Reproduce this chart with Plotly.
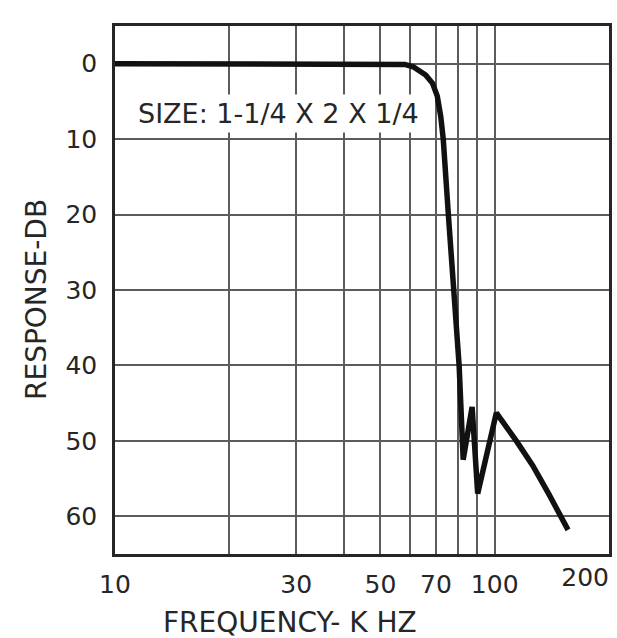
import math
import plotly.graph_objects as go

# ---- data ----
freq_khz = [10, 20, 30, 40, 50, 55, 58, 61, 63.5, 65.8, 68.6, 70.6, 72.1, 73.2,
            75.5, 78.2, 80.6, 82.6, 87.2, 90.2, 101, 114, 126, 139, 156]
response_db = [0, 0, 0, 0, 0, 0, 0.1, 0.4, 0.9, 1.5, 2.6, 4.3, 7, 10,
               20, 30, 40, 52.5, 45.5, 57, 46.3, 50, 53.3, 57.1, 61.8]

grid_freqs = [10, 20, 30, 40, 50, 60, 70, 80, 90, 100]
grid_labels = ["10", "", "30", "", "50", "", "70", "", "", "100"]
edge_freq = [200]
edge_label = ["200"]
db_ticks = [0, 10, 20, 30, 40, 50, 60]
db_labels = ["0", "10", "20", "30", "40", "50", "60"]

x_title = "FREQUENCY- K HZ"
y_title = "RESPONSE-DB"
note = "SIZE: 1-1/4 X 2 X 1/4"

FONT = "DejaVu Sans"
INK = "#262626"
GRID = "#5c5c5c"
xr = [1, math.log10(200)]

W, H = 617, 638
L, R, T, B = 115, 8, 26, 84
PW, PH = W - L - R, H - T - B


def px(xf, yf):
    """page pixel -> paper coordinates"""
    return (xf - L) / PW, (H - B - yf) / PH


fig = go.Figure()
fig.add_trace(go.Scatter(
    x=freq_khz, y=response_db, mode="lines",
    line=dict(color="#111111", width=5.5),
    showlegend=False, hoverinfo="x+y"))
# carrier trace for the overlay axis that labels the right edge
fig.add_trace(go.Scatter(
    x=edge_freq, y=[db_ticks[-1]], xaxis="x2", mode="markers",
    marker=dict(opacity=0), showlegend=False, hoverinfo="skip"))

tick_font = dict(size=25, family=FONT, color=INK)
xt = px(290, 622)
yt = px(36, 300)
nt = px(134, 114)

fig.update_layout(
    width=W, height=H,
    margin=dict(l=L, r=R, t=T, b=B, autoexpand=False),
    paper_bgcolor="white", plot_bgcolor="white",
    font=dict(family=FONT, color=INK, size=22),
    xaxis=dict(
        type="log", range=xr,
        tickvals=grid_freqs, ticktext=grid_labels,
        showgrid=True, gridcolor=GRID, gridwidth=1.5,
        showline=True, mirror=True, linecolor=INK, linewidth=2.5,
        ticks="", ticklabelstandoff=6,
        tickfont=tick_font, zeroline=False,
    ),
    xaxis2=dict(
        type="log", range=xr, overlaying="x", anchor="y", side="bottom",
        tickvals=edge_freq, ticktext=edge_label,
        ticklabelposition="outside left",
        showgrid=False, showline=False, ticks="", ticklabelstandoff=6,
        tickfont=tick_font, zeroline=False,
    ),
    yaxis=dict(
        range=[65, -5],
        tickvals=db_ticks, ticktext=db_labels,
        showgrid=True, gridcolor=GRID, gridwidth=1.5,
        showline=True, mirror=True, linecolor=INK, linewidth=2.5,
        ticks="", ticklabelstandoff=10,
        tickfont=tick_font, zeroline=False,
    ),
    annotations=[
        dict(text=x_title, xref="paper", yref="paper", x=xt[0], y=xt[1],
             xanchor="center", yanchor="middle", showarrow=False,
             font=dict(size=28, family=FONT, color=INK)),
        dict(text=y_title, xref="paper", yref="paper", x=yt[0], y=yt[1],
             textangle=-90, xanchor="center", yanchor="middle", showarrow=False,
             font=dict(size=28, family=FONT, color=INK)),
        dict(text=note, xref="paper", yref="paper", x=nt[0], y=nt[1],
             xanchor="left", yanchor="middle", showarrow=False,
             bgcolor="white", borderpad=3,
             font=dict(size=27, family=FONT, color=INK)),
    ],
)

# remove the default page margin so the figure fills the 617x638 window
fig.write_html("out.html",
               config={"displayModeBar": False},
               post_script="document.body.style.margin='0px';")
